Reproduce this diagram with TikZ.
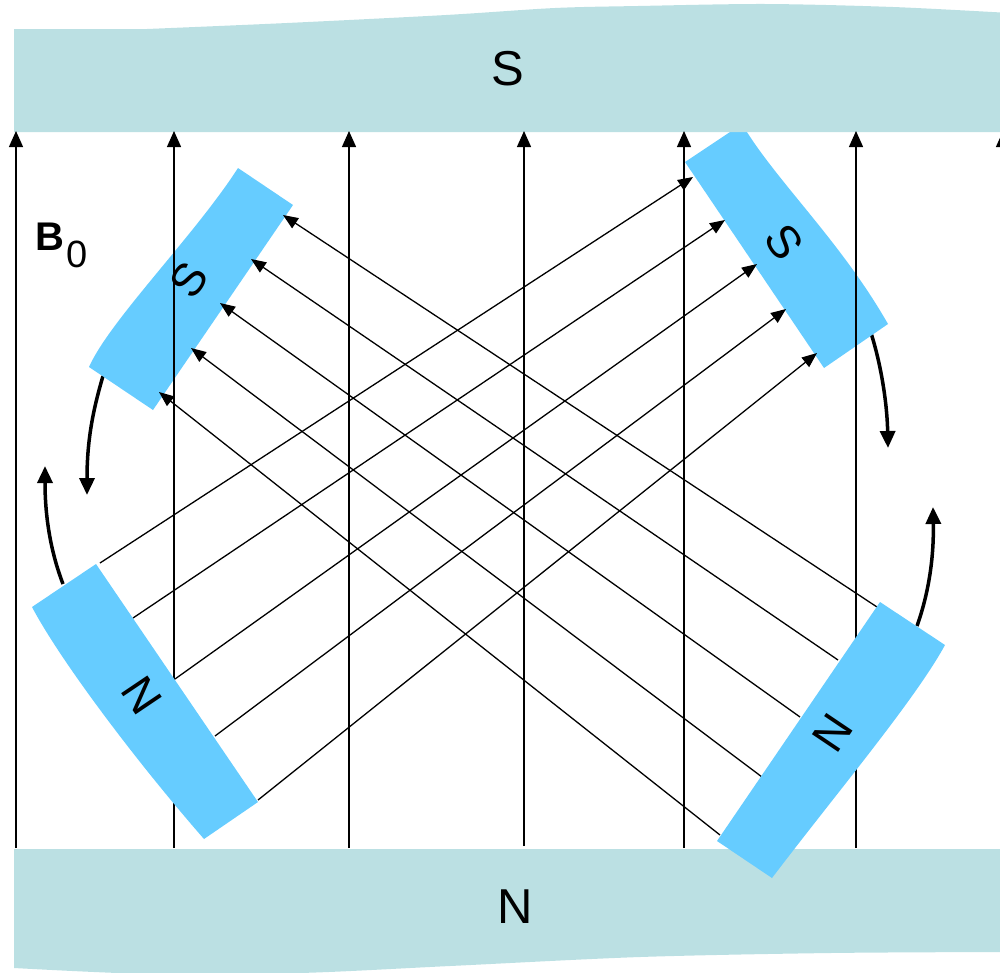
\documentclass[tikz,border=0pt]{standalone}
\usepackage{fontspec}
\setmainfont{Liberation Sans}
\usetikzlibrary{arrows.meta}
\definecolor{barc}{RGB}{187,224,227}
\definecolor{magc}{RGB}{102,204,255}
\begin{document}
\begin{tikzpicture}[x=1pt,y=-1pt,
  fieldline/.style={line width=1.3pt,-{Triangle[length=15pt,width=12pt]}},
  vline/.style={line width=1.3pt,-{Triangle[length=16pt,width=14pt]}},
  turn/.style={line width=3.5pt,-{Triangle[length=17pt,width=15pt]}},
  pole/.style={font=\fontsize{49}{49}\selectfont, inner sep=0pt},
  mpole/.style={font=\fontsize{46}{46}\selectfont, inner sep=0pt}]
\useasboundingbox (0,0) rectangle (1000,972);

% rotation arrows (under magnets)
\draw[turn] (103,376) .. controls (93,410) and (87,440) .. (87,495);
\draw[turn] (63,584) .. controls (50,550) and (45,515) .. (45,466);
\draw[turn] (870,330) .. controls (880,360) and (887,400) .. (888,448);
\draw[turn] (917,626) .. controls (928,595) and (934,560) .. (933,507);

% top magnets
\fill[magc] (293,205) -- (153,410) -- (89,367) .. controls (110,320) and (195,235) .. (238,168) -- cycle;
\fill[magc] (685,162) -- (742,124) .. controls (775,180) and (840,240) .. (888,324) -- (824,368) -- cycle;

% pole bars
\fill[barc] (1010,132) -- (14,132) -- (14,29) -- plot[smooth] coordinates {(147,29) (287,23) (446,15) (555,8) (638,6) (765,4) (893,7) (1010,13)} -- cycle;
\fill[barc] (14,849) -- (1010,849) -- (1010,952) -- plot[smooth] coordinates {(1000,952) (830,953) (640,957) (450,966) (300,973) (150,974) (14,968)} -- cycle;

% uniform field B0
\foreach \x in {16,174,349,684,856,1003} \draw[vline] (\x,848) -- (\x,131);
\draw[vline] (524,846) -- (524,131);

% field between the small magnets
\draw[fieldline] (100,563) -- (693,177);
\draw[fieldline] (133,618) -- (725,220);
\draw[fieldline] (175,679) -- (757,264);
\draw[fieldline] (215,736) -- (786,309);
\draw[fieldline] (258,800) -- (817,353);
\draw[fieldline] (877,607) -- (283,215);
\draw[fieldline] (838,660) -- (251,259);
\draw[fieldline] (800,717) -- (220,303);
\draw[fieldline] (762,777) -- (191,348);
\draw[fieldline] (720,835) -- (159,392);

% bottom magnets
\fill[magc] (96,564) -- (258,802) -- (204,839) .. controls (135,760) and (60,660) .. (32,607) -- cycle;
\fill[magc] (880,602) -- (717,841) -- (772,878) .. controls (835,795) and (915,700) .. (945,645) -- cycle;

% labels
\node[pole] (sbar) at (508,69) {S};
\node[pole] (nbar) at (515,907) {N};
\node[anchor=base west, inner sep=0pt] (bsym) at (35,250) {\fontsize{40}{48}\selectfont\bfseries B};
\node[anchor=base west, inner sep=0pt] (bsub) at (66,267) {\fontsize{38}{46}\selectfont 0};
\node[mpole, rotate=56] (stl) at (189,280) {S};
\node[mpole, rotate=-55] (str) at (784,242) {S};
\node[mpole, rotate=-56] (nbl) at (142,695) {N};
\node[mpole, rotate=56] (nbr) at (833,733) {N};
\end{tikzpicture}
\end{document}
